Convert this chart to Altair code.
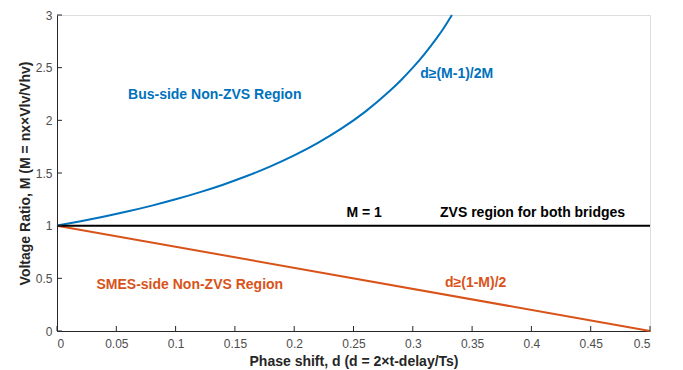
import altair as alt
import pandas as pd

# Bus-side boundary curve
bus_d = [0, 0.02, 0.04, 0.06, 0.08, 0.10, 0.12, 0.14, 0.16, 0.18, 0.20, 0.22, 0.24,
         0.26, 0.28, 0.29, 0.30, 0.31, 0.32, 0.325, 0.333]
bus_m = [1, 1.042, 1.087, 1.136, 1.190, 1.25, 1.316, 1.389, 1.471, 1.563, 1.667, 1.786, 1.923,
         2.083, 2.273, 2.381, 2.5, 2.632, 2.778, 2.857, 3.0]
# SMES-side boundary line
smes_d = [0, 0.5]
smes_m = [1, 0]
# M = 1 line
unity_d = [0, 0.5]
unity_m = [1, 1]

x_ticks = [0, 0.05, 0.1, 0.15, 0.2, 0.25, 0.3, 0.35, 0.4, 0.45, 0.5]
y_ticks = [0, 0.5, 1, 1.5, 2, 2.5, 3]

ann_text = ["Bus-side Non-ZVS Region", "d\u2265(M-1)/2M", "M = 1", "ZVS region for both bridges",
            "d\u2265(1-M)/2", "SMES-side Non-ZVS Region"]
ann_d = [0.133, 0.337, 0.259, 0.401, 0.353, 0.112]
ann_m = [2.24, 2.44, 1.12, 1.12, 0.455, 0.435]
ann_color = ["#0072BD", "#0072BD", "#000000", "#000000", "#D95319", "#D95319"]

W, H = 593, 316
FONT = "Liberation Sans"
AX = "#262626"

xs = alt.Scale(domain=[0, 0.5], nice=False)
ys = alt.Scale(domain=[0, 3], nice=False)

bus = pd.DataFrame({"d": bus_d, "M": bus_m})
smes = pd.DataFrame({"d": smes_d, "M": smes_m})
unity = pd.DataFrame({"d": unity_d, "M": unity_m})
ann = pd.DataFrame({"d": ann_d, "M": ann_m, "t": ann_text, "c": ann_color})

base_x = alt.X("d:Q", scale=xs, axis=alt.Axis(
    values=x_ticks, format="~g", ticks=False, grid=False, domainColor=AX, domainWidth=1,
    labelColor="#4d4d4d", labelFont=FONT, labelFontSize=12, labelPadding=7,
    title="Phase shift, d (d = 2\u00d7t-delay/Ts)", titleFont=FONT, titleFontSize=14,
    titleFontWeight="bold", titleColor=AX, titlePadding=5))
base_y = alt.Y("M:Q", scale=ys, axis=alt.Axis(
    values=y_ticks, format="~g", ticks=False, grid=False, domainColor=AX, domainWidth=1,
    labelColor="#4d4d4d", labelFont=FONT, labelFontSize=12, labelPadding=5,
    title="Voltage Ratio, M (M = nx\u00d7Vlv/Vhv)", titleFont=FONT, titleFontSize=14,
    titleFontWeight="bold", titleColor=AX, titlePadding=3))

l_bus = alt.Chart(bus).mark_line(color="#0072BD", strokeWidth=2, interpolate="monotone").encode(
    x=base_x, y=base_y)
l_smes = alt.Chart(smes).mark_line(color="#D95319", strokeWidth=2).encode(x="d:Q", y="M:Q")
l_unity = alt.Chart(unity).mark_line(color="#000000", strokeWidth=2).encode(x="d:Q", y="M:Q")

xt = alt.Chart(pd.DataFrame({"d": x_ticks})).mark_rule(color=AX, strokeWidth=1).encode(
    x=alt.X("d:Q", scale=xs), y=alt.value(H), y2=alt.value(H - 5))
yt = alt.Chart(pd.DataFrame({"M": y_ticks})).mark_rule(color=AX, strokeWidth=1).encode(
    y=alt.Y("M:Q", scale=ys), x=alt.value(0), x2=alt.value(5))

txt = alt.Chart(ann).mark_text(font=FONT, fontSize=14, fontWeight="bold", align="center",
                               baseline="middle").encode(
    x=alt.X("d:Q", scale=xs), y=alt.Y("M:Q", scale=ys), text="t:N",
    color=alt.Color("c:N", scale=None))

chart = alt.layer(l_bus, l_smes, l_unity, xt, yt, txt).properties(
    width=W, height=H,
    autosize=alt.AutoSizeParams(type="none"),
    padding={"left": 57, "top": 15, "right": 33, "bottom": 39},
).configure_view(stroke=None).configure(background="white")

chart.save("out.html", embed_options={"renderer": "svg", "actions": False})
